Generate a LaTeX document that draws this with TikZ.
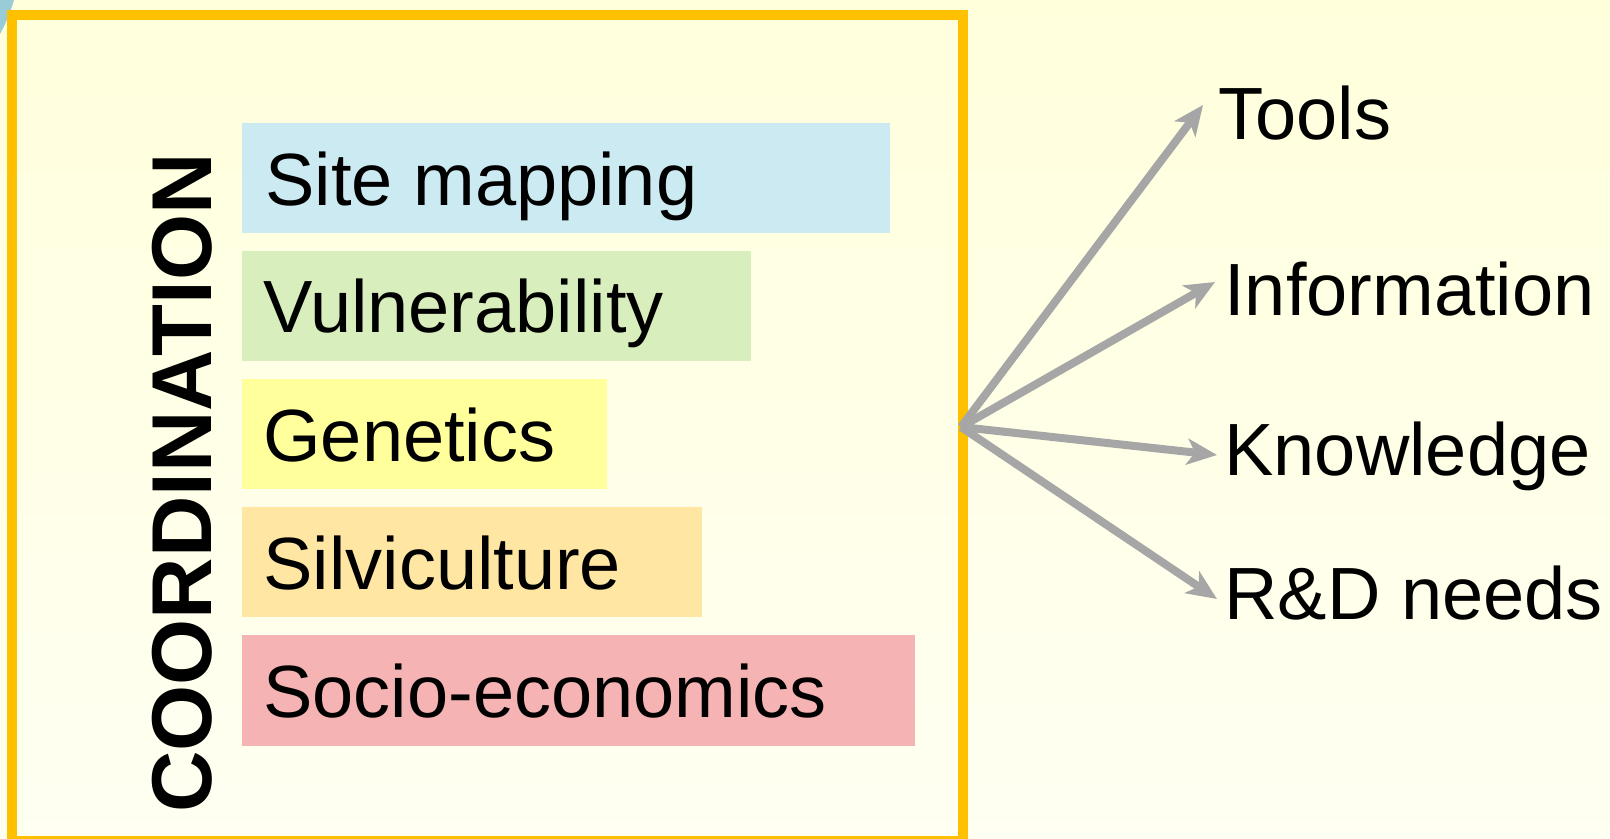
\documentclass[tikz,border=0pt]{standalone}
\usepackage{fontspec}
\setmainfont{Liberation Sans}
\usetikzlibrary{arrows.meta}
\definecolor{bgtop}{HTML}{FFFFDC}
\definecolor{bgbot}{HTML}{FFFFF2}
\definecolor{frameorange}{HTML}{FFC000}
\definecolor{arrowgray}{HTML}{A6A6A6}
\definecolor{wedgeblue}{HTML}{99CCD6}
\definecolor{barblue}{HTML}{CCEAF2}
\definecolor{bargreen}{HTML}{D8EEBC}
\definecolor{baryellow}{HTML}{FFFF9C}
\definecolor{barorange}{HTML}{FFE6A2}
\definecolor{barred}{HTML}{F6B3B3}
\tikzset{
  bartext/.style={anchor=base west, inner sep=0pt, font=\fontsize{37pt}{44pt}\selectfont},
  outtext/.style={anchor=base west, inner sep=0pt, font=\fontsize{37pt}{44pt}\selectfont},
  outarrow/.style={draw=arrowgray, line width=4pt, -{Stealth[length=15pt, width=13pt, inset=4pt]}},
}
\begin{document}
\begin{tikzpicture}[x=0.5pt, y=-0.5pt]
\useasboundingbox (0,0) rectangle (1610,839);
\shade[top color=bgtop, bottom color=bgbot] (0,0) rectangle (1610,839);
% blue wedge
\fill[wedgeblue] (0,0) -- (14,0) .. controls (10,14) and (5,25) .. (0,34) -- cycle;
% bars
\fill[barblue]   (242,123) rectangle (890,233);
\fill[bargreen]  (242,251) rectangle (751,361);
\fill[baryellow] (242,379) rectangle (607,489);
\fill[barorange] (242,507) rectangle (702,617);
\fill[barred]    (242,635) rectangle (915,746);
% frame
\draw[frameorange, line width=5pt] (12,15) rectangle (963,841);
% bar texts
\node[bartext] (site)  at (265,206) {Site mapping};
\node[bartext] (vuln)  at (263,333) {Vulnerability};
\node[bartext] (gen)   at (263,461) {Genetics};
\node[bartext] (silv)  at (263,589) {Silviculture};
\node[bartext] (socio) at (263,717) {Socio-economics};
% vertical label
\node[inner sep=0pt, rotate=90, font=\fontsize{42.5pt}{50pt}\selectfont\bfseries] (coord) at (182,483) {COORDINATION};
% outputs
\node[outtext] (tools) at (1218,140) {Tools};
\node[outtext] (info)  at (1224,316) {Information};
\node[outtext] (know)  at (1224,475) {Knowledge};
\node[outtext] (rnd)   at (1224,619) {R\&D needs};
\coordinate (hub) at (961,427);
\coordinate (ttools) at (1203,105);
\coordinate (tinfo) at (1215,282);
\coordinate (tknow) at (1217,455);
\coordinate (trnd) at (1217,599);
\draw[outarrow] (hub) -- (ttools);
\draw[outarrow] (hub) -- (tinfo);
\draw[outarrow] (hub) -- (tknow);
\draw[outarrow] (hub) -- (trnd);
\end{tikzpicture}
\end{document}
